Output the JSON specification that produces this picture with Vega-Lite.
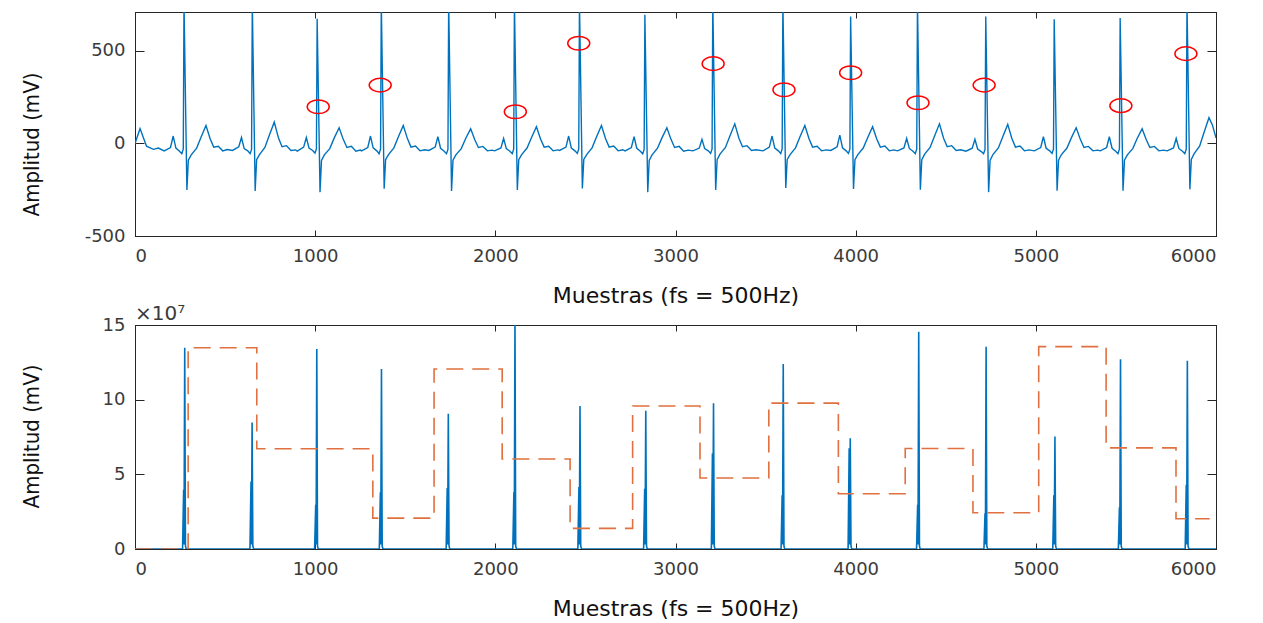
{
  "$schema": "https://vega.github.io/schema/vega-lite/v6.json",
  "background": "white",
  "padding": {"left": 19, "top": 11, "right": 5, "bottom": 2},
  "bounds": "flush",
  "spacing": 89,
  "config": {
    "view": {"stroke": "#262626", "strokeWidth": 1},
    "axis": {
      "grid": false,
      "domainColor": "#262626",
      "tickColor": "#262626",
      "labelColor": "#3a3a3a",
      "labelFont": "DejaVu Sans",
      "labelFontSize": 18,
      "titleFont": "DejaVu Sans",
      "titleFontWeight": "normal",
      "titleColor": "#111111"
    },
    "axisX": {"tickSize": -6, "labelPadding": 17},
    "axisY": {"tickSize": -9, "labelPadding": 19},
    "title": {"font": "DejaVu Sans", "fontWeight": "normal"}
  },
  "datasets": {
    "ecg": [
      {"sample": 0, "mv": 0}, {"sample": 28, "mv": 80}, {"sample": 64, "mv": -15}, {"sample": 102, "mv": -32}, {"sample": 130, "mv": -25},
      {"sample": 162, "mv": -40}, {"sample": 197, "mv": -22}, {"sample": 212, "mv": 40}, {"sample": 227, "mv": -25}, {"sample": 247, "mv": -42}, {"sample": 260, "mv": -55}, {"sample": 268, "mv": -30}, {"sample": 272, "mv": 760}, {"sample": 288, "mv": -252}, {"sample": 296, "mv": -90}, {"sample": 312, "mv": -62}, {"sample": 342, "mv": -25}, {"sample": 367, "mv": 35}, {"sample": 394, "mv": 97}, {"sample": 417, "mv": 25}, {"sample": 437, "mv": -20}, {"sample": 462, "mv": -15}, {"sample": 487, "mv": -40}, {"sample": 512, "mv": -33},
      {"sample": 541, "mv": -38}, {"sample": 576, "mv": -18}, {"sample": 591, "mv": 32}, {"sample": 606, "mv": -28}, {"sample": 626, "mv": -40}, {"sample": 639, "mv": -55}, {"sample": 647, "mv": -32}, {"sample": 651, "mv": 760}, {"sample": 667, "mv": -257}, {"sample": 675, "mv": -88}, {"sample": 691, "mv": -60}, {"sample": 721, "mv": -22}, {"sample": 746, "mv": 45}, {"sample": 773, "mv": 115}, {"sample": 796, "mv": 30}, {"sample": 816, "mv": -18}, {"sample": 841, "mv": -12}, {"sample": 866, "mv": -38}, {"sample": 891, "mv": -35},
      {"sample": 901, "mv": -42}, {"sample": 936, "mv": -20}, {"sample": 951, "mv": 32}, {"sample": 966, "mv": -25}, {"sample": 986, "mv": -38}, {"sample": 999, "mv": -52}, {"sample": 1007, "mv": -30}, {"sample": 1011, "mv": 673}, {"sample": 1027, "mv": -263}, {"sample": 1035, "mv": -92}, {"sample": 1051, "mv": -62}, {"sample": 1081, "mv": -28}, {"sample": 1106, "mv": 30}, {"sample": 1133, "mv": 85}, {"sample": 1156, "mv": 22}, {"sample": 1176, "mv": -22}, {"sample": 1201, "mv": -15}, {"sample": 1226, "mv": -42}, {"sample": 1251, "mv": -36},
      {"sample": 1257, "mv": -40}, {"sample": 1292, "mv": -22}, {"sample": 1307, "mv": 40}, {"sample": 1322, "mv": -24}, {"sample": 1342, "mv": -40}, {"sample": 1355, "mv": -56}, {"sample": 1363, "mv": -30}, {"sample": 1367, "mv": 760}, {"sample": 1383, "mv": -245}, {"sample": 1391, "mv": -88}, {"sample": 1407, "mv": -60}, {"sample": 1437, "mv": -24}, {"sample": 1462, "mv": 36}, {"sample": 1489, "mv": 97}, {"sample": 1512, "mv": 26}, {"sample": 1532, "mv": -20}, {"sample": 1557, "mv": -14}, {"sample": 1582, "mv": -40}, {"sample": 1607, "mv": -34},
      {"sample": 1631, "mv": -38}, {"sample": 1666, "mv": -20}, {"sample": 1681, "mv": 36}, {"sample": 1696, "mv": -26}, {"sample": 1716, "mv": -42}, {"sample": 1729, "mv": -55}, {"sample": 1737, "mv": -32}, {"sample": 1741, "mv": 760}, {"sample": 1757, "mv": -257}, {"sample": 1765, "mv": -90}, {"sample": 1781, "mv": -62}, {"sample": 1811, "mv": -28}, {"sample": 1836, "mv": 28}, {"sample": 1863, "mv": 79}, {"sample": 1886, "mv": 20}, {"sample": 1906, "mv": -22}, {"sample": 1931, "mv": -16}, {"sample": 1956, "mv": -40}, {"sample": 1981, "mv": -36},
      {"sample": 1996, "mv": -40}, {"sample": 2031, "mv": -24}, {"sample": 2046, "mv": 27}, {"sample": 2061, "mv": -28}, {"sample": 2081, "mv": -42}, {"sample": 2094, "mv": -55}, {"sample": 2102, "mv": -30}, {"sample": 2106, "mv": 760}, {"sample": 2122, "mv": -252}, {"sample": 2130, "mv": -88}, {"sample": 2146, "mv": -60}, {"sample": 2176, "mv": -25}, {"sample": 2201, "mv": 32}, {"sample": 2228, "mv": 90}, {"sample": 2251, "mv": 24}, {"sample": 2271, "mv": -20}, {"sample": 2296, "mv": -15}, {"sample": 2321, "mv": -40}, {"sample": 2346, "mv": -35},
      {"sample": 2357, "mv": -38}, {"sample": 2392, "mv": -20}, {"sample": 2407, "mv": 40}, {"sample": 2422, "mv": -25}, {"sample": 2442, "mv": -40}, {"sample": 2455, "mv": -54}, {"sample": 2463, "mv": -30}, {"sample": 2467, "mv": 760}, {"sample": 2483, "mv": -243}, {"sample": 2491, "mv": -86}, {"sample": 2507, "mv": -60}, {"sample": 2537, "mv": -24}, {"sample": 2562, "mv": 36}, {"sample": 2589, "mv": 97}, {"sample": 2612, "mv": 25}, {"sample": 2632, "mv": -20}, {"sample": 2657, "mv": -14}, {"sample": 2682, "mv": -40}, {"sample": 2707, "mv": -34},
      {"sample": 2720, "mv": -40}, {"sample": 2755, "mv": -22}, {"sample": 2770, "mv": 36}, {"sample": 2785, "mv": -26}, {"sample": 2805, "mv": -42}, {"sample": 2818, "mv": -56}, {"sample": 2826, "mv": -32}, {"sample": 2830, "mv": 695}, {"sample": 2846, "mv": -263}, {"sample": 2854, "mv": -92}, {"sample": 2870, "mv": -62}, {"sample": 2900, "mv": -26}, {"sample": 2925, "mv": 30}, {"sample": 2952, "mv": 85}, {"sample": 2975, "mv": 22}, {"sample": 2995, "mv": -22}, {"sample": 3020, "mv": -16}, {"sample": 3045, "mv": -42}, {"sample": 3070, "mv": -36},
      {"sample": 3097, "mv": -40}, {"sample": 3132, "mv": -25}, {"sample": 3147, "mv": 22}, {"sample": 3162, "mv": -28}, {"sample": 3182, "mv": -40}, {"sample": 3195, "mv": -54}, {"sample": 3203, "mv": -30}, {"sample": 3207, "mv": 760}, {"sample": 3223, "mv": -252}, {"sample": 3231, "mv": -88}, {"sample": 3247, "mv": -58}, {"sample": 3277, "mv": -22}, {"sample": 3302, "mv": 40}, {"sample": 3329, "mv": 106}, {"sample": 3352, "mv": 28}, {"sample": 3372, "mv": -18}, {"sample": 3397, "mv": -12}, {"sample": 3422, "mv": -38}, {"sample": 3447, "mv": -34},
      {"sample": 3486, "mv": -40}, {"sample": 3521, "mv": -20}, {"sample": 3536, "mv": 40}, {"sample": 3551, "mv": -25}, {"sample": 3571, "mv": -40}, {"sample": 3584, "mv": -55}, {"sample": 3592, "mv": -30}, {"sample": 3596, "mv": 760}, {"sample": 3612, "mv": -240}, {"sample": 3620, "mv": -86}, {"sample": 3636, "mv": -60}, {"sample": 3666, "mv": -24}, {"sample": 3691, "mv": 36}, {"sample": 3718, "mv": 97}, {"sample": 3741, "mv": 25}, {"sample": 3761, "mv": -20}, {"sample": 3786, "mv": -15}, {"sample": 3811, "mv": -40}, {"sample": 3836, "mv": -35},
      {"sample": 3862, "mv": -38}, {"sample": 3897, "mv": -18}, {"sample": 3912, "mv": 45}, {"sample": 3927, "mv": -24}, {"sample": 3947, "mv": -40}, {"sample": 3960, "mv": -54}, {"sample": 3968, "mv": -30}, {"sample": 3972, "mv": 685}, {"sample": 3988, "mv": -246}, {"sample": 3996, "mv": -88}, {"sample": 4012, "mv": -60}, {"sample": 4042, "mv": -25}, {"sample": 4067, "mv": 32}, {"sample": 4094, "mv": 90}, {"sample": 4117, "mv": 24}, {"sample": 4137, "mv": -20}, {"sample": 4162, "mv": -14}, {"sample": 4187, "mv": -40}, {"sample": 4212, "mv": -35},
      {"sample": 4233, "mv": -40}, {"sample": 4268, "mv": -24}, {"sample": 4283, "mv": 27}, {"sample": 4298, "mv": -27}, {"sample": 4318, "mv": -42}, {"sample": 4331, "mv": -55}, {"sample": 4339, "mv": -30}, {"sample": 4343, "mv": 760}, {"sample": 4359, "mv": -250}, {"sample": 4367, "mv": -88}, {"sample": 4383, "mv": -58}, {"sample": 4413, "mv": -22}, {"sample": 4438, "mv": 40}, {"sample": 4465, "mv": 106}, {"sample": 4488, "mv": 28}, {"sample": 4508, "mv": -18}, {"sample": 4533, "mv": -12}, {"sample": 4558, "mv": -38}, {"sample": 4583, "mv": -34},
      {"sample": 4612, "mv": -42}, {"sample": 4647, "mv": -26}, {"sample": 4662, "mv": 22}, {"sample": 4677, "mv": -30}, {"sample": 4697, "mv": -44}, {"sample": 4710, "mv": -56}, {"sample": 4718, "mv": -32}, {"sample": 4722, "mv": 685}, {"sample": 4738, "mv": -263}, {"sample": 4746, "mv": -92}, {"sample": 4762, "mv": -60}, {"sample": 4792, "mv": -24}, {"sample": 4817, "mv": 38}, {"sample": 4844, "mv": 103}, {"sample": 4867, "mv": 27}, {"sample": 4887, "mv": -20}, {"sample": 4912, "mv": -14}, {"sample": 4937, "mv": -40}, {"sample": 4962, "mv": -35},
      {"sample": 4992, "mv": -40}, {"sample": 5027, "mv": -22}, {"sample": 5042, "mv": 36}, {"sample": 5057, "mv": -26}, {"sample": 5077, "mv": -40}, {"sample": 5090, "mv": -54}, {"sample": 5098, "mv": -30}, {"sample": 5102, "mv": 671}, {"sample": 5118, "mv": -256}, {"sample": 5126, "mv": -90}, {"sample": 5142, "mv": -60}, {"sample": 5172, "mv": -26}, {"sample": 5197, "mv": 30}, {"sample": 5224, "mv": 85}, {"sample": 5247, "mv": 22}, {"sample": 5267, "mv": -22}, {"sample": 5292, "mv": -16}, {"sample": 5317, "mv": -40}, {"sample": 5342, "mv": -36},
      {"sample": 5358, "mv": -40}, {"sample": 5393, "mv": -22}, {"sample": 5408, "mv": 36}, {"sample": 5423, "mv": -26}, {"sample": 5443, "mv": -42}, {"sample": 5456, "mv": -55}, {"sample": 5464, "mv": -30}, {"sample": 5468, "mv": 677}, {"sample": 5484, "mv": -256}, {"sample": 5492, "mv": -90}, {"sample": 5508, "mv": -62}, {"sample": 5538, "mv": -28}, {"sample": 5563, "mv": 28}, {"sample": 5590, "mv": 79}, {"sample": 5613, "mv": 20}, {"sample": 5633, "mv": -22}, {"sample": 5658, "mv": -16}, {"sample": 5683, "mv": -40}, {"sample": 5708, "mv": -36},
      {"sample": 5729, "mv": -40}, {"sample": 5764, "mv": -24}, {"sample": 5779, "mv": 27}, {"sample": 5794, "mv": -27}, {"sample": 5814, "mv": -42}, {"sample": 5827, "mv": -55}, {"sample": 5835, "mv": -30}, {"sample": 5839, "mv": 760}, {"sample": 5855, "mv": -248}, {"sample": 5863, "mv": -86}, {"sample": 5879, "mv": -55}, {"sample": 5909, "mv": -15}, {"sample": 5934, "mv": 60}, {"sample": 5961, "mv": 139}, {"sample": 5980, "mv": 100}, {"sample": 6000, "mv": 30}
    ],
    "picos": [
      {"sample": 1017, "mv": 198}, {"sample": 1361, "mv": 315}, {"sample": 2111, "mv": 171}, {"sample": 2463, "mv": 541},
      {"sample": 3209, "mv": 431}, {"sample": 3602, "mv": 290}, {"sample": 3972, "mv": 382}, {"sample": 4346, "mv": 220},
      {"sample": 4713, "mv": 315}, {"sample": 5472, "mv": 204}, {"sample": 5833, "mv": 485}
    ],
    "energia": [
      {"sample": 0, "amp": 0},
      {"sample": 264, "amp": 0}, {"sample": 270, "amp": 3.97e7}, {"sample": 272, "amp": 3e6}, {"sample": 276, "amp": 1.348e8}, {"sample": 280, "amp": 2e6}, {"sample": 284, "amp": 0},
      {"sample": 638, "amp": 0}, {"sample": 644, "amp": 4.52e7}, {"sample": 646, "amp": 3e6}, {"sample": 650, "amp": 8.47e7}, {"sample": 654, "amp": 2e6}, {"sample": 658, "amp": 0},
      {"sample": 997, "amp": 0}, {"sample": 1003, "amp": 2.96e7}, {"sample": 1005, "amp": 3e6}, {"sample": 1009, "amp": 1.34e8}, {"sample": 1013, "amp": 2e6}, {"sample": 1017, "amp": 0},
      {"sample": 1356, "amp": 0}, {"sample": 1362, "amp": 3.8e7}, {"sample": 1364, "amp": 3e6}, {"sample": 1368, "amp": 1.206e8}, {"sample": 1372, "amp": 2e6}, {"sample": 1376, "amp": 0},
      {"sample": 1727, "amp": 0}, {"sample": 1733, "amp": 4.08e7}, {"sample": 1735, "amp": 3e6}, {"sample": 1739, "amp": 9.05e7}, {"sample": 1743, "amp": 2e6}, {"sample": 1747, "amp": 0},
      {"sample": 2097, "amp": 0}, {"sample": 2103, "amp": 3.8e7}, {"sample": 2105, "amp": 3e6}, {"sample": 2109, "amp": 1.55e8}, {"sample": 2113, "amp": 2e6}, {"sample": 2117, "amp": 0},
      {"sample": 2458, "amp": 0}, {"sample": 2464, "amp": 4.15e7}, {"sample": 2466, "amp": 3e6}, {"sample": 2470, "amp": 9.58e7}, {"sample": 2474, "amp": 2e6}, {"sample": 2478, "amp": 0},
      {"sample": 2823, "amp": 0}, {"sample": 2829, "amp": 4.03e7}, {"sample": 2831, "amp": 3e6}, {"sample": 2835, "amp": 9.25e7}, {"sample": 2839, "amp": 2e6}, {"sample": 2843, "amp": 0},
      {"sample": 3199, "amp": 0}, {"sample": 3205, "amp": 6.4e7}, {"sample": 3207, "amp": 3e6}, {"sample": 3211, "amp": 9.76e7}, {"sample": 3215, "amp": 2e6}, {"sample": 3219, "amp": 0},
      {"sample": 3586, "amp": 0}, {"sample": 3592, "amp": 3.6e7}, {"sample": 3594, "amp": 3e6}, {"sample": 3598, "amp": 1.239e8}, {"sample": 3602, "amp": 2e6}, {"sample": 3606, "amp": 0},
      {"sample": 3958, "amp": 0}, {"sample": 3964, "amp": 6.75e7}, {"sample": 3966, "amp": 3e6}, {"sample": 3970, "amp": 7.42e7}, {"sample": 3974, "amp": 2e6}, {"sample": 3978, "amp": 0},
      {"sample": 4338, "amp": 0}, {"sample": 4344, "amp": 2.96e7}, {"sample": 4346, "amp": 3e6}, {"sample": 4350, "amp": 1.455e8}, {"sample": 4354, "amp": 2e6}, {"sample": 4358, "amp": 0},
      {"sample": 4712, "amp": 0}, {"sample": 4718, "amp": 2.4e7}, {"sample": 4720, "amp": 3e6}, {"sample": 4724, "amp": 1.355e8}, {"sample": 4728, "amp": 2e6}, {"sample": 4732, "amp": 0},
      {"sample": 5094, "amp": 0}, {"sample": 5100, "amp": 3.6e7}, {"sample": 5102, "amp": 3e6}, {"sample": 5106, "amp": 7.53e7}, {"sample": 5110, "amp": 2e6}, {"sample": 5114, "amp": 0},
      {"sample": 5458, "amp": 0}, {"sample": 5464, "amp": 2.79e7}, {"sample": 5466, "amp": 3e6}, {"sample": 5470, "amp": 1.27e8}, {"sample": 5474, "amp": 2e6}, {"sample": 5478, "amp": 0},
      {"sample": 5829, "amp": 0}, {"sample": 5835, "amp": 4.3e7}, {"sample": 5837, "amp": 3e6}, {"sample": 5841, "amp": 1.26e8}, {"sample": 5845, "amp": 2e6}, {"sample": 5849, "amp": 0},
      {"sample": 6000, "amp": 0}
    ],
    "umbral": [
      {"sample": 0, "amp": 0}, {"sample": 295, "amp": 1.348e8}, {"sample": 676, "amp": 6.71e7}, {"sample": 1320, "amp": 2.07e7},
      {"sample": 1660, "amp": 1.205e8}, {"sample": 2038, "amp": 6.03e7}, {"sample": 2415, "amp": 1.38e7}, {"sample": 2762, "amp": 9.58e7},
      {"sample": 3136, "amp": 4.75e7}, {"sample": 3518, "amp": 9.77e7}, {"sample": 3904, "amp": 3.7e7}, {"sample": 4275, "amp": 6.73e7},
      {"sample": 4651, "amp": 2.43e7}, {"sample": 5016, "amp": 1.355e8}, {"sample": 5390, "amp": 6.77e7}, {"sample": 5778, "amp": 2.03e7},
      {"sample": 5965, "amp": 2.03e7}
    ]
  },
  "vconcat": [
    {
      "width": 1081,
      "height": 224,
      "layer": [
        {
          "data": {"name": "ecg"},
          "mark": {"type": "line", "color": "#0072BD", "strokeWidth": 1.4, "clip": true},
          "encoding": {
            "x": {"field": "sample", "type": "quantitative", "scale": {"domain": [0, 6000], "nice": false},
                  "axis": {"orient": "bottom", "values": [0, 1000, 2000, 3000, 4000, 5000, 6000], "labelExpr": "'' + datum.value",
                           "title": "Muestras (fs = 500Hz)", "titleFontSize": 22, "titleX": 540.5, "titleY": 66,
                           "titleBaseline": "alphabetic", "titleAlign": "center"}},
            "y": {"field": "mv", "type": "quantitative", "scale": {"domain": [-500, 710], "nice": false, "zero": false},
                  "axis": {"values": [-500, 0, 500], "labelExpr": "'' + datum.value", "title": "Amplitud (mV)",
                           "titleFont": "DejaVu Sans Condensed, Liberation Sans, sans-serif", "titleFontSize": 22, "titleX": -97, "titleY": 132,
                           "titleAngle": -90, "titleBaseline": "alphabetic", "titleAlign": "center"}}
          }
        },
        {
          "data": {"name": "picos"},
          "mark": {"type": "point", "shape": "M-1,0A1,0.62 0 1,0 1,0A1,0.62 0 1,0 -1,0", "size": 484,
                   "color": "#FF0000", "filled": false, "strokeWidth": 1.5, "opacity": 1},
          "encoding": {
            "x": {"field": "sample", "type": "quantitative", "scale": {"domain": [0, 6000], "nice": false},
                  "axis": {"orient": "top", "labels": false, "title": null, "values": [0, 1000, 2000, 3000, 4000, 5000, 6000]}},
            "y": {"field": "mv", "type": "quantitative", "scale": {"domain": [-500, 710], "nice": false, "zero": false},
                  "axis": {"orient": "right", "labels": false, "title": null, "values": [-500, 0, 500]}}
          }
        }
      ],
      "resolve": {"axis": {"x": "independent", "y": "independent"}}
    },
    {
      "width": 1081,
      "height": 224,
      "title": {"text": "×10⁷", "anchor": "start", "frame": "group", "offset": -24, "baseline": "alphabetic", "fontSize": 20,
                "font": "DejaVu Sans", "fontWeight": "normal", "color": "#3a3a3a"},
      "layer": [
        {
          "data": {"name": "energia"},
          "mark": {"type": "line", "color": "#0072BD", "strokeWidth": 1.6, "clip": true},
          "encoding": {
            "x": {"field": "sample", "type": "quantitative", "scale": {"domain": [0, 6000], "nice": false},
                  "axis": {"orient": "bottom", "values": [0, 1000, 2000, 3000, 4000, 5000, 6000], "labelExpr": "'' + datum.value",
                           "title": "Muestras (fs = 500Hz)", "titleFontSize": 22, "titleX": 540.5, "titleY": 66,
                           "titleBaseline": "alphabetic", "titleAlign": "center"}},
            "y": {"field": "amp", "type": "quantitative", "scale": {"domain": [0, 150000000], "nice": false},
                  "axis": {"values": [0, 50000000, 100000000, 150000000], "labelExpr": "'' + (datum.value / 10000000)",
                           "title": "Amplitud (mV)", "titleFont": "DejaVu Sans Condensed, Liberation Sans, sans-serif", "titleFontSize": 22,
                           "titleX": -97, "titleY": 111, "titleAngle": -90, "titleBaseline": "alphabetic", "titleAlign": "center"}}
          }
        },
        {
          "data": {"name": "umbral"},
          "mark": {"type": "line", "interpolate": "step-after", "color": "#E0703F", "strokeWidth": 1.6, "strokeDash": [17, 9], "clip": true},
          "encoding": {
            "x": {"field": "sample", "type": "quantitative", "scale": {"domain": [0, 6000], "nice": false},
                  "axis": {"orient": "top", "labels": false, "title": null, "values": [0, 1000, 2000, 3000, 4000, 5000, 6000]}},
            "y": {"field": "amp", "type": "quantitative", "scale": {"domain": [0, 150000000], "nice": false},
                  "axis": {"orient": "right", "labels": false, "title": null, "values": [0, 50000000, 100000000, 150000000]}}
          }
        }
      ],
      "resolve": {"axis": {"x": "independent", "y": "independent"}}
    }
  ]
}
